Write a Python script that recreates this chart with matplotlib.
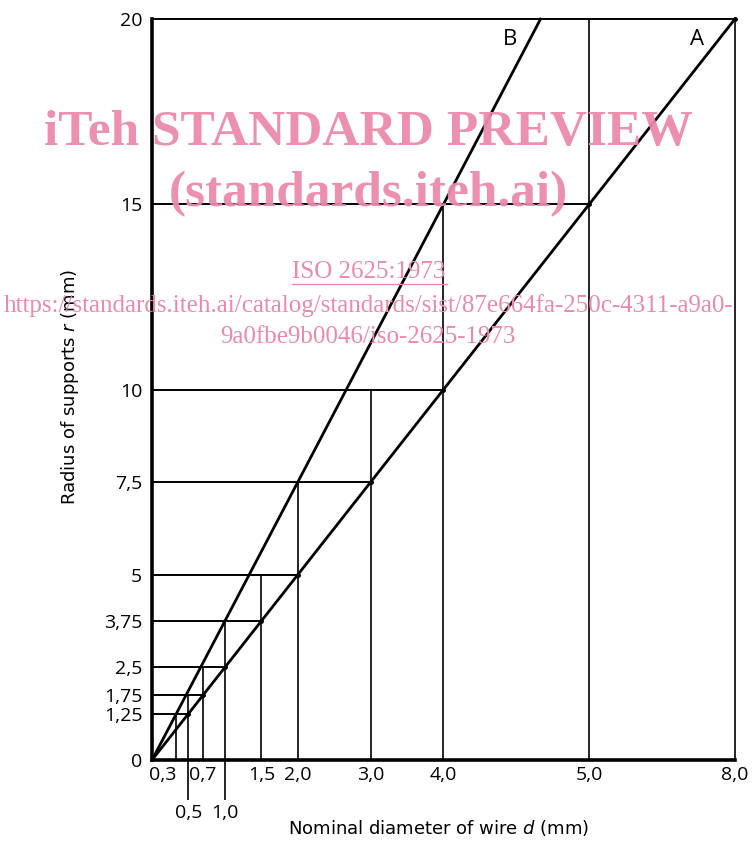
import matplotlib
matplotlib.use('Agg')
import matplotlib.pyplot as plt
from matplotlib.lines import Line2D

plt.rcParams['font.family'] = ['Open Sans', 'DejaVu Sans']

# data
d_labels = ['0,3', '0,5', '0,7', '1,0', '1,5', '2,0', '3,0', '4,0', '5,0', '8,0']
d_pos = [0.83, 1.25, 1.75, 2.5, 3.75, 5.0, 7.5, 10.0, 15.0, 20.0]   # position on the drawn axis
d_top = [1.25, 1.75, 2.5, 3.75, 5.0, 7.5, 10.0, 15.0, 20.0, 20.0]   # height of vertical guide
second_row = ['0,5', '1,0']

r_ticks = [0, 1.25, 1.75, 2.5, 3.75, 5, 7.5, 10, 15, 20]
r_labels = ['0', '1,25', '1,75', '2,5', '3,75', '5', '7,5', '10', '15', '20']
r_reach = [0, 1.25, 1.75, 2.5, 3.75, 5.0, 7.5, 10.0, 15.0, 20.0]   # end of horizontal guide

# curve A and B
a_x = [0, 1.25, 1.75, 2.5, 3.75, 5.0, 7.5, 10.0, 15.0, 20.0]
a_y = [0, 1.25, 1.75, 2.5, 3.75, 5.0, 7.5, 10.0, 15.0, 20.0]
b_x = [0, 2.5, 5.0, 10.0, 13.33]
b_y = [0, 3.75, 7.5, 15.0, 20.0]

fig = plt.figure(figsize=(7.53, 8.5), dpi=100)
ax = fig.add_axes([0.2019, 0.1059, 0.976 - 0.2019, 0.9776 - 0.1059])

# guides
for x, top in zip(d_pos, d_top):
    ax.plot([x, x], [0, top], color='black', lw=1.2, solid_capstyle='butt', clip_on=False)
for y, reach in zip(r_ticks[1:], r_reach[1:]):
    ax.plot([0, reach], [y, y], color='black', lw=1.4, solid_capstyle='butt', clip_on=False)

ax.plot(a_x, a_y, color='black', lw=2.0, clip_on=False)
ax.plot(b_x, b_y, color='black', lw=2.0, clip_on=False)
ax.plot(a_x[1:], a_y[1:], 'o', color='black', ms=2.5, clip_on=False)

ax.text(12.3, 19.45, 'B', fontsize=16, ha='center', va='center')
ax.text(18.7, 19.45, 'A', fontsize=16, ha='center', va='center')

ax.set_xlim(0, 20)
ax.set_ylim(0, 20)
for s in ['top', 'right']:
    ax.spines[s].set_visible(False)
ax.spines['left'].set_linewidth(2.6)
ax.spines['bottom'].set_linewidth(2.6)

# y ticks
ax.set_yticks(r_ticks)
ax.set_yticklabels(r_labels, fontsize=14)
ax.tick_params(axis='y', length=0, pad=7)

# x ticks in two rows
major_pos = [p for p, l in zip(d_pos, d_labels) if l not in second_row]
major_lab = [l for l in d_labels if l not in second_row]
minor_pos = [p for p, l in zip(d_pos, d_labels) if l in second_row]
minor_lab = [l for l in d_labels if l in second_row]
ax.set_xticks(major_pos)
ax.set_xticklabels(major_lab, fontsize=14)
ax.set_xticks(minor_pos, minor=True)
ax.set_xticklabels(minor_lab, minor=True, fontsize=14)
ax.tick_params(axis='x', which='major', length=0, pad=4)
ax.tick_params(axis='x', which='minor', length=29, width=1.2, pad=3, direction='out')
xl = ax.get_xticklabels()
xl[0].set_ha('right')
xl[1].set_ha('center')
xl[1].set_x(1.35)

fig.text(0.582, 0.014, 'Nominal diameter of wire $\\it{d}$ (mm)', fontsize=13,
         family='DejaVu Sans', ha='center', va='bottom')
fig.text(0.093, 0.545, 'Radius of supports $\\it{r}$ (mm)', fontsize=13,
         family='DejaVu Sans', ha='center', va='center', rotation=90)

# watermark
pink = '#ec8aaa'
fig.text(0.489, 0.843, 'iTeh STANDARD PREVIEW', fontsize=37, fontweight='bold',
         family='Liberation Serif', color=pink, ha='center', va='center', alpha=0.95)
fig.text(0.489, 0.772, '(standards.iteh.ai)', fontsize=37, fontweight='bold',
         family='Liberation Serif', color=pink, ha='center', va='center', alpha=0.95)
fig.text(0.489, 0.68, 'ISO 2625:1973', fontsize=18,
         family='Liberation Serif', color=pink, ha='center', va='center')
fig.add_artist(Line2D([0.388, 0.594], [0.666, 0.666], color=pink, lw=1))
fig.text(0.489, 0.641, 'https://standards.iteh.ai/catalog/standards/sist/87e664fa-250c-4311-a9a0-',
         fontsize=18, family='Liberation Serif', color=pink, ha='center', va='center')
fig.text(0.489, 0.603, '9a0fbe9b0046/iso-2625-1973', fontsize=18,
         family='Liberation Serif', color=pink, ha='center', va='center')

fig.savefig('out.png', dpi=100)
